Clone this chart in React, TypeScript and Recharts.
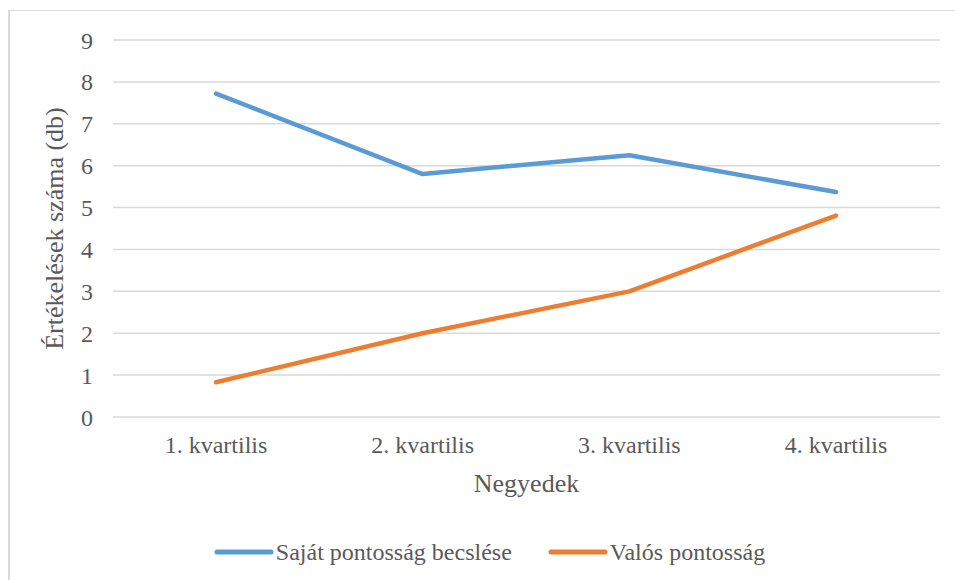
import React from 'react';
import { LineChart, Line, XAxis, YAxis, CartesianGrid, Legend } from 'recharts';

const categories = ['1. kvartilis', '2. kvartilis', '3. kvartilis', '4. kvartilis'];
const sajatBecsles = [7.72, 5.8, 6.25, 5.37];
const valosPontossag = [0.83, 2.0, 3.0, 4.81];
const yTicks = [0, 1, 2, 3, 4, 5, 6, 7, 8, 9];

const seriesNames = ['Saját pontosság becslése', 'Valós pontosság'];
const seriesColors = ['#5b9bd5', '#ed7d31'];

const data = categories.map((c, i) => ({
  name: c,
  a: sajatBecsles[i],
  b: valosPontossag[i],
}));

const FONT = '"Liberation Serif", "Times New Roman", serif';
const TEXT = '#595959';

const LegendContent = () => (
  <div style={{ display: 'flex', justifyContent: 'center', alignItems: 'center', paddingLeft: 39, fontFamily: FONT, fontSize: 24, color: TEXT, lineHeight: '40px' }}>
    {seriesNames.map((n, i) => (
      <div key={n} style={{ display: 'flex', alignItems: 'center', marginRight: i === 0 ? 36 : 0 }}>
        <svg width={60} height={10} style={{ marginRight: 2 }}>
          <line x1={3} y1={5} x2={57} y2={5} stroke={seriesColors[i]} strokeWidth={5} strokeLinecap="round" />
        </svg>
        <span>{n}</span>
      </div>
    ))}
  </div>
);

export default function App() {
  return (
    <div style={{ position: 'absolute', left: 0, top: 0, width: 955, height: 580, background: '#fff', overflow: 'hidden' }}>
      <div style={{ position: 'absolute', left: 8, top: 10, width: 947, height: 570, borderTop: '1.5px solid #d9d9d9', borderLeft: '2px solid #d9d9d9', boxSizing: 'border-box' }} />
      <LineChart width={955} height={580} data={data} margin={{ top: 40, right: 15, left: 0, bottom: 8 }}>
        <CartesianGrid vertical={false} stroke="#d9d9d9" strokeWidth={1.5} />
        <XAxis
          dataKey="name"
          axisLine={false}
          tickLine={false}
          tickSize={0}
          tickMargin={19}
          height={115}
          padding={{ left: 103, right: 104 }}
          tick={{ fill: TEXT, fontSize: 24, fontFamily: FONT }}
          label={{ value: 'Negyedek', position: 'insideBottom', offset: 40, fill: TEXT, fontSize: 26, fontFamily: FONT }}
        />
        <YAxis
          domain={[0, 9]}
          ticks={yTicks}
          interval={0}
          axisLine={false}
          tickLine={false}
          tickSize={0}
          tickMargin={20}
          width={113}
          tick={{ fill: TEXT, fontSize: 24, fontFamily: FONT }}
          label={{ value: 'Értékelések száma (db)', angle: -90, position: 'insideLeft', offset: 54, style: { textAnchor: 'middle' }, fill: TEXT, fontSize: 26, fontFamily: FONT }}
        />
        <Legend verticalAlign="bottom" height={40} content={<LegendContent />} />
        <Line dataKey="a" name={seriesNames[0]} stroke={seriesColors[0]} strokeWidth={4.5} strokeLinecap="round" strokeLinejoin="round" dot={false} activeDot={false} isAnimationActive={false} />
        <Line dataKey="b" name={seriesNames[1]} stroke={seriesColors[1]} strokeWidth={4.5} strokeLinecap="round" strokeLinejoin="round" dot={false} activeDot={false} isAnimationActive={false} />
      </LineChart>
    </div>
  );
}
